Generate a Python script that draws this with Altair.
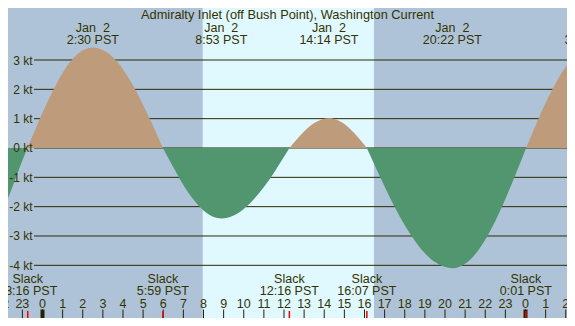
import altair as alt
import pandas as pd

TITLE = "Admiralty Inlet (off Bush Point), Washington Current"

# Current curve readings: hours after midnight Jan 2 (PST), knots
lobe_a_t = [-3.0, -2.5, -2.0, -1.5, -1.0, -0.75]
lobe_a_v = [-3.49, -2.91, -2.18, -1.34, -0.43, 0.0]
lobe_b_t = [-0.75, -0.25, 0.0, 0.5, 1.0, 1.5, 2.0, 2.5, 3.0, 3.5, 4.0, 4.5, 5.0, 5.5, 5.983]
lobe_b_v = [0.0, 0.80, 1.20, 1.93, 2.56, 3.03, 3.33, 3.43, 3.34, 3.09, 2.68, 2.13, 1.47, 0.74, 0.0]
lobe_c_t = [5.983, 6.5, 7.0, 7.5, 8.0, 8.5, 8.883, 9.5, 10.0, 10.5, 11.0, 11.5, 12.0, 12.267]
lobe_c_v = [0.0, -0.66, -1.26, -1.76, -2.13, -2.35, -2.40, -2.30, -2.08, -1.75, -1.33, -0.84, -0.30, 0.0]
lobe_d_t = [12.267, 12.5, 13.0, 13.5, 14.0, 14.233, 14.5, 15.0, 15.5, 16.0, 16.117]
lobe_d_v = [0.0, 0.19, 0.56, 0.85, 1.00, 1.02, 0.99, 0.82, 0.50, 0.10, 0.0]
lobe_e_t = [16.117, 16.5, 17.0, 17.5, 18.0, 18.5, 19.0, 19.5, 20.0, 20.367, 21.0, 21.5, 22.0, 22.5, 23.0, 23.5, 24.03]
lobe_e_v = [0.0, -0.58, -1.31, -2.01, -2.63, -3.16, -3.59, -3.89, -4.06, -4.10, -3.95, -3.62, -3.13, -2.49, -1.74, -0.91, 0.0]
lobe_f_t = [24.03, 24.5, 25.0, 25.5, 26.0, 26.5, 27.0, 27.23, 27.5]
lobe_f_v = [0.0, 0.77, 1.54, 2.21, 2.76, 3.14, 3.34, 3.35, 3.33]

# Events
max_t = [2.5, 8.883, 14.233, 20.367, 27.23]
max_date = ["Jan\u00a0 2", "Jan\u00a0 2", "Jan\u00a0 2", "Jan\u00a0 2", "Jan\u00a0 3"]
max_time = ["2:30 PST", "8:53 PST", "14:14 PST", "20:22 PST", "3:14 PST"]
slack_t = [-0.733, 5.983, 12.267, 16.117, 24.017]
slack_time = ["23:16 PST", "5:59 PST", "12:16 PST", "16:07 PST", "0:01 PST"]

sunrise, sunset = 7.96, 16.47
hours = list(range(-2, 27))
hour_labels = [str(h % 24) for h in hours]
midnights = [0, 24]
kt_levels = [3, 2, 1, 0, -1, -2, -3, -4]
kt_labels = [f"{k} kt" for k in kt_levels]

NIGHT = "#AFC3D8"
DAY = "#E0F8FF"
FLOOD = "#BD9B7B"
EBB = "#529670"
INK = "#333300"
FONT = "Liberation Sans"
W, H = 559, 310

rows = []
for name, ts, vs, d in [("a", lobe_a_t, lobe_a_v, "ebb"), ("b", lobe_b_t, lobe_b_v, "flood"),
                        ("c", lobe_c_t, lobe_c_v, "ebb"), ("d", lobe_d_t, lobe_d_v, "flood"),
                        ("e", lobe_e_t, lobe_e_v, "ebb"), ("f", lobe_f_t, lobe_f_v, "flood")]:
    for t, v in zip(ts, vs):
        rows.append({"t": t, "v": v, "z": 0.0, "lobe": name, "dir": d})
curve = pd.DataFrame(rows)

xs = alt.Scale(domain=[-1.714, 26.062], nice=False, zero=False)
ys = alt.Scale(domain=[-5.796, 4.773], nice=False, zero=False)


def X(f="t"):
    return alt.X(f"{f}:Q", scale=xs, axis=None)


def Y(f="v"):
    return alt.Y(f"{f}:Q", scale=ys, axis=None, stack=None)


def txt(**kw):
    base = dict(align="center", baseline="alphabetic", font=FONT, fontSize=12.5, color=INK)
    base.update(kw)
    return base


day = alt.Chart(pd.DataFrame({"t": [sunrise], "t2": [sunset]})).mark_rect(color=DAY).encode(
    x=X(), x2="t2:Q", y=alt.value(0), y2=alt.value(H))

grid = alt.Chart(pd.DataFrame({"k": kt_levels})).mark_rule(color="#2A2A00", strokeWidth=1).encode(
    x=alt.value(26), x2=alt.value(W), y=Y("k"))

area = alt.Chart(curve).mark_area(interpolate="monotone", clip=True).encode(
    x=X(), y=Y(), y2="z:Q",
    color=alt.Color("dir:N", scale=alt.Scale(domain=["flood", "ebb"], range=[FLOOD, EBB]), legend=None),
    detail="lobe:N")

ylab = alt.Chart(pd.DataFrame({"k": kt_levels, "lab": kt_labels})).mark_text(
    **txt(align="right", baseline="middle", dy=0.5, fontSize=12)).encode(
    x=alt.value(24.5), y=Y("k"), text="lab:N")

title = alt.Chart(pd.DataFrame({"s": [TITLE]})).mark_text(**txt(fontSize=12.8)).encode(
    x=alt.value(279.5), y=alt.value(10.5), text="s:N")

maxdf = pd.DataFrame({"t": max_t, "d": max_date, "tm": max_time})
maxd = alt.Chart(maxdf).mark_text(**txt()).encode(x=X(), y=alt.value(23.5), text="d:N")
maxt = alt.Chart(maxdf).mark_text(**txt()).encode(x=X(), y=alt.value(35.5), text="tm:N")

sdf = pd.DataFrame({"t": slack_t, "tm": slack_time, "s": ["Slack"] * len(slack_t)})
sl1 = alt.Chart(sdf).mark_text(**txt()).encode(x=X(), y=alt.value(275), text="s:N")
sl2 = alt.Chart(sdf).mark_text(**txt()).encode(x=X(), y=alt.value(287), text="tm:N")

hdf = pd.DataFrame({"t": hours, "lab": hour_labels})
hticks = alt.Chart(hdf).mark_rule(color="#222200", strokeWidth=1).encode(
    x=X(), y=alt.value(301.5), y2=alt.value(H))
hlabs = alt.Chart(hdf).mark_text(**txt()).encode(x=X(), y=alt.value(300), text="lab:N")
mticks = alt.Chart(pd.DataFrame({"t": midnights})).mark_rule(color="#222200", strokeWidth=4).encode(
    x=X(), y=alt.value(301.5), y2=alt.value(H))
sticks = alt.Chart(sdf).mark_rule(color="#EE0000", strokeWidth=1.5).encode(
    x=X(), y=alt.value(303), y2=alt.value(H))

chart = alt.layer(day, grid, area, ylab, title, maxd, maxt, sl1, sl2, hticks, mticks, sticks, hlabs).properties(
    width=W, height=H, background=NIGHT, padding=0,
    autosize=alt.AutoSizeParams(type="none")
).configure_view(stroke=None)

chart.save("out.html", embed_options={"renderer": "svg", "actions": False})
